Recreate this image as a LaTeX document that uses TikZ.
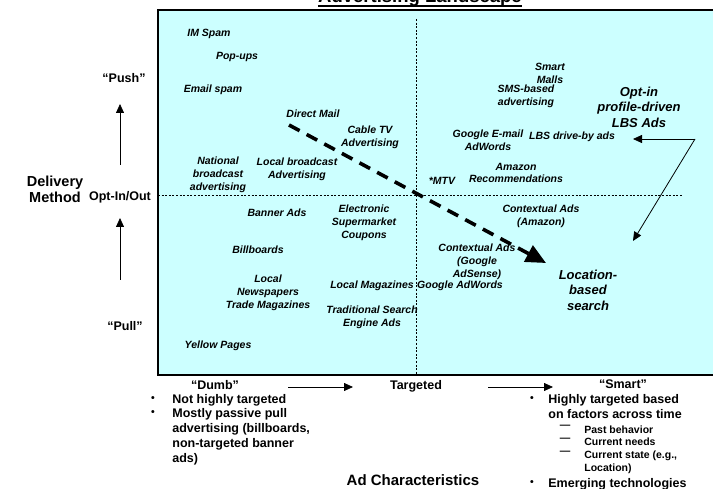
\documentclass[tikz,border=0pt]{standalone}
\usepackage{fontspec}
\setmainfont{Liberation Sans}
\usetikzlibrary{arrows.meta}
\definecolor{chartbg}{HTML}{CCFFFF}

\begin{document}
\begin{tikzpicture}[x=1pt,y=-1pt,line width=0.8pt,
  lbl/.style={font=\fontsize{10.5}{12.8}\selectfont\bfseries\itshape,align=center,inner sep=0pt},
  biglbl/.style={font=\fontsize{13}{15.5}\selectfont\bfseries\itshape,align=center,inner sep=0pt},
  axislbl/.style={font=\fontsize{12.5}{15}\selectfont\bfseries,align=left,inner sep=0pt},
  sublbl/.style={font=\fontsize{10.5}{12.7}\selectfont\bfseries,align=left,inner sep=0pt},
  thinarrow/.style={-{Triangle[length=9pt,width=8pt]},line width=0.8pt},
  divider/.style={dash pattern=on 2pt off 1.6pt,line width=0.6pt}]
  \useasboundingbox (0,0) rectangle (713,489);
  \fill[white] (0,0) rectangle (713,489);

  % title, only its lower edge shows
  \node[font=\fontsize{18.5}{20}\selectfont\bfseries,anchor=base,inner sep=0pt] (title) at (420,3) {Advertising Landscape};
  \draw[line width=1.6pt] (title.base west) ++(0,3) -- ++(204,0);

  % chart area
  \draw[line width=1.2pt,fill=chartbg] (158,10) rectangle (720,375);
  \draw[divider] (416,19) -- (416,375);
  \draw[divider] (158,195) -- (682,195);

  \coordinate (dmstart) at (289,125);
  \coordinate (dmend) at (546,263);
  \coordinate (corner) at (695,139);
  \coordinate (drivebytip) at (633,139);
  \coordinate (searchtip) at (633,241);

  % trend line
  \draw[line width=3.6pt,dash pattern=on 12pt off 8pt,-{Triangle[length=20pt,width=18pt]}] (dmstart) -- (dmend);

  % opt-in arrows
  \draw[thinarrow] (corner) -- (drivebytip);
  \draw[thinarrow] (corner) -- (searchtip);

  % labels inside the chart
  \node[lbl] (imspam) at (209,34) {IM Spam};
  \node[lbl] (popups) at (237,57) {Pop-ups};
  \node[lbl] (emailspam) at (213,90) {Email spam};
  \node[lbl] (directmail) at (313,114) {Direct Mail};
  \node[lbl] (cabletv) at (370,137) {Cable TV\\Advertising};
  \node[lbl] (national) at (218,175) {National\\broadcast\\advertising};
  \node[lbl] (localbroadcast) at (297,169) {Local broadcast\\Advertising};
  \node[lbl] (mtv) at (442,181) {*MTV};
  \node[lbl] (banner) at (277,213) {Banner Ads};
  \node[lbl] (coupons) at (364,223) {Electronic\\Supermarket\\Coupons};
  \node[lbl] (billboards) at (258,250) {Billboards};
  \node[lbl] (newspapers) at (268,293) {Local\\Newspapers\\Trade Magazines};
  \node[lbl] (localmags) at (372,286) {Local Magazines};
  \node[lbl] (adwords) at (460,286) {Google AdWords};
  \node[lbl] (tradsearch) at (372,317) {Traditional Search\\Engine Ads};
  \node[lbl] (yellow) at (218,346) {Yellow Pages};
  \node[lbl] (smartmalls) at (550,73) {Smart\\Malls};
  \node[lbl] (sms) at (526,96) {SMS-based\\advertising};
  \node[biglbl] (optin) at (639,107) {Opt-in\\profile-driven\\LBS Ads};
  \node[lbl] (gmail) at (488,140) {Google E-mail\\AdWords};
  \node[lbl] (driveby) at (572,137) {LBS drive-by ads};
  \node[lbl] (amazonrec) at (516,173) {Amazon\\Recommendations};
  \node[lbl] (ctxamazon) at (541,216) {Contextual Ads\\(Amazon)};
  \node[lbl] (ctxgoogle) at (477,262) {Contextual Ads\\(Google\\AdSense)};
  \node[biglbl] (lbsearch) at (588,290) {Location-\\based\\search};

  % delivery method axis
  \node[font=\fontsize{14.5}{16}\selectfont\bfseries,align=center,inner sep=0pt] (delivery) at (55,189) {Delivery\\Method};
  \node[axislbl] (push) at (124,78) {“Push”};
  \node[axislbl] (optinout) at (120,197) {Opt-In/Out};
  \node[axislbl] (pull) at (125,326) {“Pull”};
  \coordinate (pushtail) at (120,165);
  \coordinate (pushtip) at (120,104);
  \coordinate (pulltail) at (120,280);
  \coordinate (pulltip) at (120,218);
  \draw[thinarrow] (pushtail) -- (pushtip);
  \draw[thinarrow] (pulltail) -- (pulltip);

  % ad characteristics axis
  \node[axislbl] (dumb) at (215,385) {“Dumb”};
  \node[axislbl] (targeted) at (416,386) {Targeted};
  \node[axislbl] (smart) at (623,384) {“Smart”};
  \coordinate (dumbtail) at (288,387);
  \coordinate (dumbtip) at (353,387);
  \coordinate (smarttail) at (488,387);
  \coordinate (smarttip) at (553,387);
  \draw[thinarrow] (dumbtail) -- (dumbtip);
  \draw[thinarrow] (smarttail) -- (smarttip);
  \node[font=\fontsize{15}{18}\selectfont\bfseries,inner sep=0pt] (adchar) at (413,480) {Ad Characteristics};

  % dumb side
  \node[sublbl] (dot1) at (153,399) {•};
  \node[axislbl,anchor=north west] (nottargeted) at (172,394) {Not highly targeted};
  \node[sublbl] (dot2) at (153,413) {•};
  \node[axislbl,anchor=north west] (passive) at (172,408) {Mostly passive pull\\advertising (billboards,\\non-targeted banner\\ads)};

  % smart side
  \node[sublbl] (dot3) at (532,399) {•};
  \node[axislbl,anchor=north west] (factors) at (548,394) {Highly targeted based\\on factors across time};
  \node[sublbl,anchor=north] (dash1) at (565,425) {—\\—\\—};
  \node[sublbl,anchor=north west] (states) at (584,425) {Past behavior\\Current needs\\Current state (e.g.,\\Location)};
  \node[sublbl] (dot4) at (532,483) {•};
  \node[axislbl,anchor=north west] (emerging) at (548,478) {Emerging technologies};
\end{tikzpicture}
\end{document}
